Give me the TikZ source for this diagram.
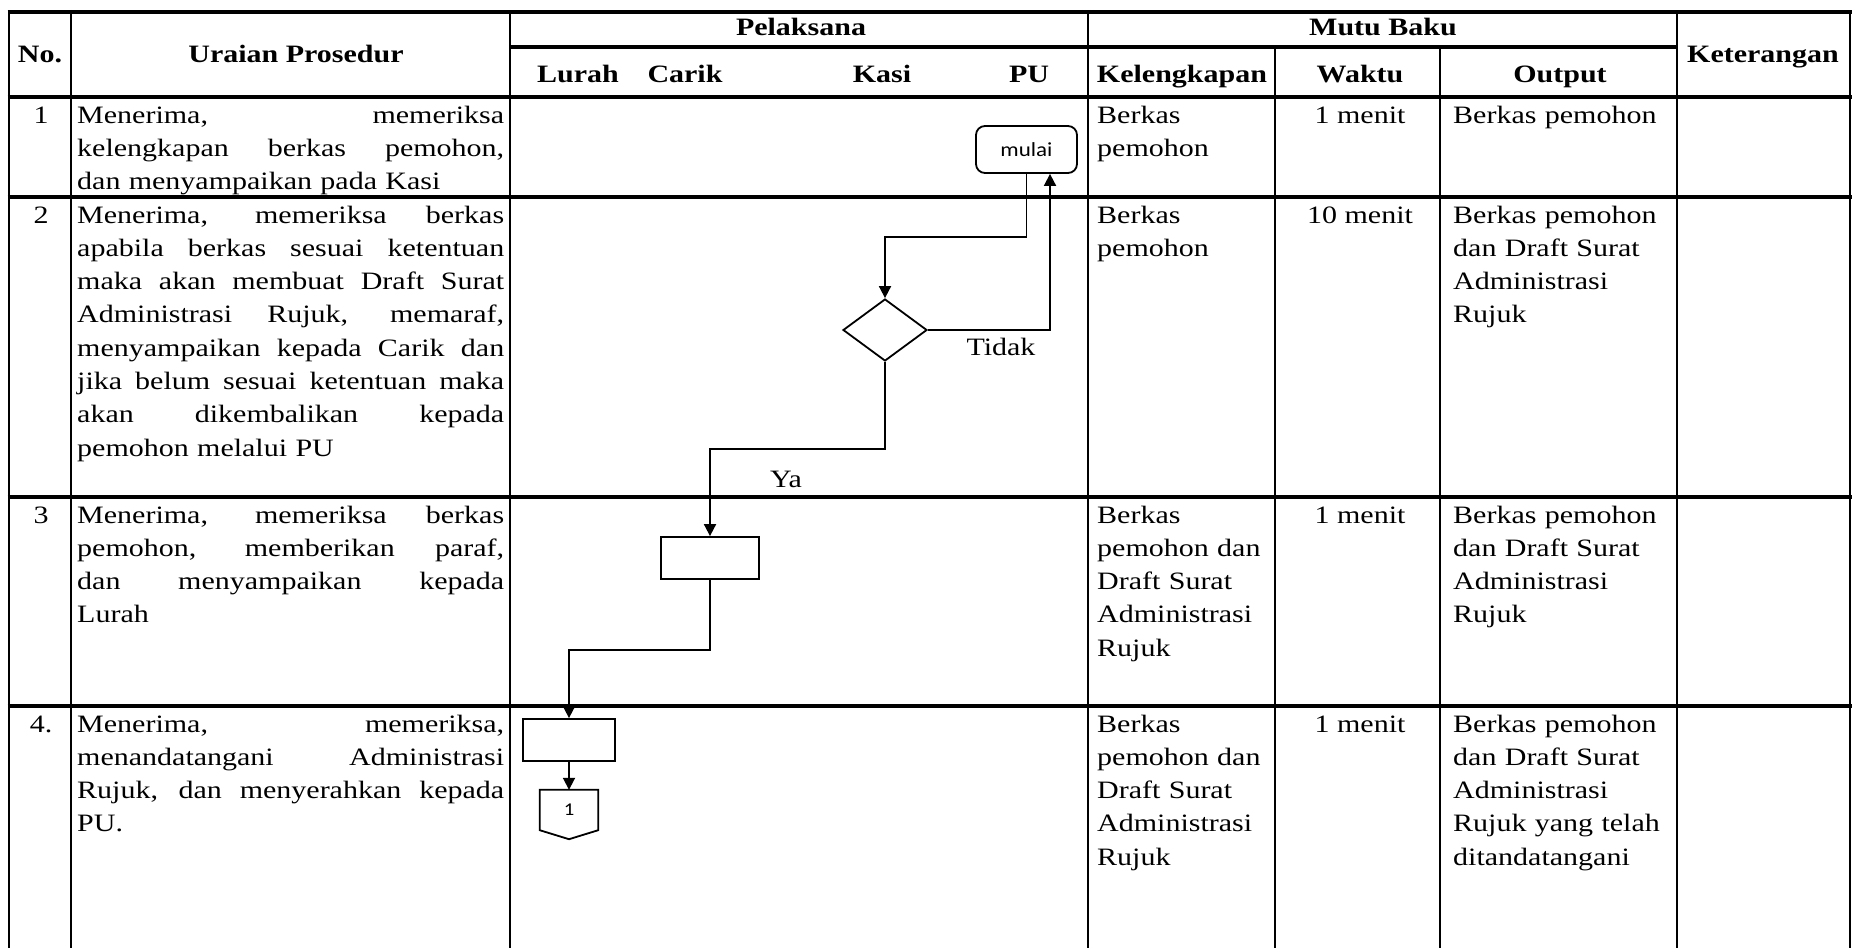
\documentclass[tikz,border=0pt]{standalone}
\usepackage{fontspec}
\setmainfont{Liberation Serif}[FakeStretch=1.2]
\newfontfamily\mulaifont{Carlito}[FakeStretch=1.15]
\usetikzlibrary{positioning}
\usetikzlibrary{calc}
\usetikzlibrary{arrows.meta}
\usetikzlibrary{shapes.geometric}
\newcommand{\jbaris}[1]{\makebox[427pt][s]{\spaceskip=0pt\xspaceskip=0pt #1}}

\begin{document}
\begin{tikzpicture}[x=1pt, y=-1pt,
	garish/.style={line width=3.2pt},
	garisv/.style={line width=2.3pt},
	judul/.style={font=\fontsize{25}{30}\selectfont\bfseries, inner sep=0pt, anchor=base},
	isi/.style={font=\fontsize{25}{33.3}\selectfont, inner sep=0pt, anchor=base west, align=left},
	nomor/.style={font=\fontsize{25}{30}\selectfont, inner sep=0pt, anchor=base},
	proses/.style={draw, line width=1.8pt, minimum width=98pt, minimum height=42pt, inner sep=0pt},
	alur/.style={line width=1.8pt, -{Triangle[length=12pt,width=12pt]}}]
			\useasboundingbox (0,0) rectangle (1852,948);
			% Garis tabel
			\draw[garish] (7.5,12) -- (1852,12);
			\draw[garish] (510,47) -- (1677,47);
			\foreach \y in {97,197,497,706}
				\draw[garish] (7.5,\y) -- (1852,\y);
			\foreach \x in {9,71,510,1088,1677,1850}
				\draw[garisv] (\x,10.4) -- (\x,948);
			\foreach \x in {1275,1440}
				\draw[garisv] (\x,47) -- (\x,948);
			% Kepala tabel
			\node[judul] (hno) at (40,62) {No.};
			\node[judul] (huraian) at (296,62) {Uraian Prosedur};
			\node[judul] (hpelaksana) at (801,35) {Pelaksana};
			\node[judul] (hmutu) at (1383,35) {Mutu Baku};
			\node[judul] (hket) at (1763,62) {Keterangan};
			\node[judul] (hlurah) at (578,82) {Lurah};
			\node[judul] (hcarik) at (685,82) {Carik};
			\node[judul] (hkasi) at (882,82) {Kasi};
			\node[judul] (hpu) at (1029,82) {PU};
			\node[judul] (hkelengkapan) at (1182,82) {Kelengkapan};
			\node[judul] (hwaktu) at (1360,82) {Waktu};
			\node[judul] (houtput) at (1560,82) {Output};
			% Baris 1
			\node[nomor] (no1) at (41,123) {1};
			\node[isi, text width=427pt] (uraian1) at (77,123) {\jbaris{Menerima, memeriksa}\\
				\jbaris{kelengkapan berkas pemohon,}\\
				dan menyampaikan pada Kasi};
			\node[isi, text width=180pt] (lengkap1) at (1097,123) {Berkas\\ pemohon};
			\node[nomor] (waktu1) at (1360,123) {1 menit};
			\node[isi, text width=220pt] (output1) at (1453,123) {Berkas pemohon};
			% Baris 2
			\node[nomor] (no2) at (41,223) {2};
			\node[isi, text width=427pt] (uraian2) at (77,223) {\jbaris{Menerima, memeriksa berkas}\\
				\jbaris{apabila berkas sesuai ketentuan}\\
				\jbaris{maka akan membuat Draft Surat}\\
				\jbaris{Administrasi Rujuk, memaraf,}\\
				\jbaris{menyampaikan kepada Carik dan}\\
				\jbaris{jika belum sesuai ketentuan maka}\\
				\jbaris{akan dikembalikan kepada}\\
				pemohon melalui PU};
			\node[isi, text width=180pt] (lengkap2) at (1097,223) {Berkas\\ pemohon};
			\node[nomor] (waktu2) at (1360,223) {10 menit};
			\node[isi, text width=220pt] (output2) at (1453,223) {Berkas pemohon\\ dan Draft Surat\\ Administrasi\\ Rujuk};
			% Baris 3
			\node[nomor] (no3) at (41,523) {3};
			\node[isi, text width=427pt] (uraian3) at (77,523) {\jbaris{Menerima, memeriksa berkas}\\
				\jbaris{pemohon, memberikan paraf,}\\
				\jbaris{dan menyampaikan kepada}\\
				Lurah};
			\node[isi, text width=180pt] (lengkap3) at (1097,523) {Berkas\\ pemohon dan\\ Draft Surat\\ Administrasi\\ Rujuk};
			\node[nomor] (waktu3) at (1360,523) {1 menit};
			\node[isi, text width=220pt] (output3) at (1453,523) {Berkas pemohon\\ dan Draft Surat\\ Administrasi\\ Rujuk};
			% Baris 4
			\node[nomor] (no4) at (41,732) {4.};
			\node[isi, text width=427pt] (uraian4) at (77,732) {\jbaris{Menerima, memeriksa,}\\
				\jbaris{menandatangani Administrasi}\\
				\jbaris{Rujuk, dan menyerahkan kepada}\\
				PU.};
			\node[isi, text width=180pt] (lengkap4) at (1097,732) {Berkas\\ pemohon dan\\ Draft Surat\\ Administrasi\\ Rujuk};
			\node[nomor] (waktu4) at (1360,732) {1 menit};
			\node[isi, text width=220pt] (output4) at (1453,732) {Berkas pemohon\\ dan Draft Surat\\ Administrasi\\ Rujuk yang telah\\ ditandatangani};
			% Bagan alir
			\node[draw, rounded corners=9pt, line width=1.8pt, minimum width=101pt, minimum height=47pt, inner sep=0pt,
				font=\mulaifont\fontsize{20}{23}\selectfont] (mulai) at (1026.5,149.5) {mulai};
			\node[draw, diamond, line width=1.8pt, minimum width=84pt, minimum height=62pt, inner sep=0pt] (cek) at (885,330) {};
			\node[proses] (kotakcarik) at (710,558) {};
			\node[proses, minimum width=92pt] (kotaklurah) at (569,740) {};
			\node[inner sep=0pt, minimum width=58pt, minimum height=40pt,
				font=\mulaifont\fontsize{18}{20}\selectfont] (konektor) at (569,810) {1};
			\draw[line width=1.8pt] (konektor.north west) -- (konektor.north east) -- (konektor.south east)
				-- ($(konektor.south)+(0,9)$) -- (konektor.south west) -- cycle;
			% Penghubung
			\draw[alur] (mulai.south) -- ++(0,63) -| (cek.north);
			\draw[alur] (cek.east) -| ([xshift=23.5pt]mulai.south);
			\draw[alur] (cek.south) -- ++(0,87) -| (kotakcarik.north);
			\draw[alur] (kotakcarik.south) -- ++(0,70) -| (kotaklurah.north);
			\draw[alur] (kotaklurah.south) -- (konektor.north);
			\node[nomor] (tidak) at (1001,355) {Tidak};
			\node[nomor] (ya) at (786,487) {Ya};
		\end{tikzpicture}
\end{document}
